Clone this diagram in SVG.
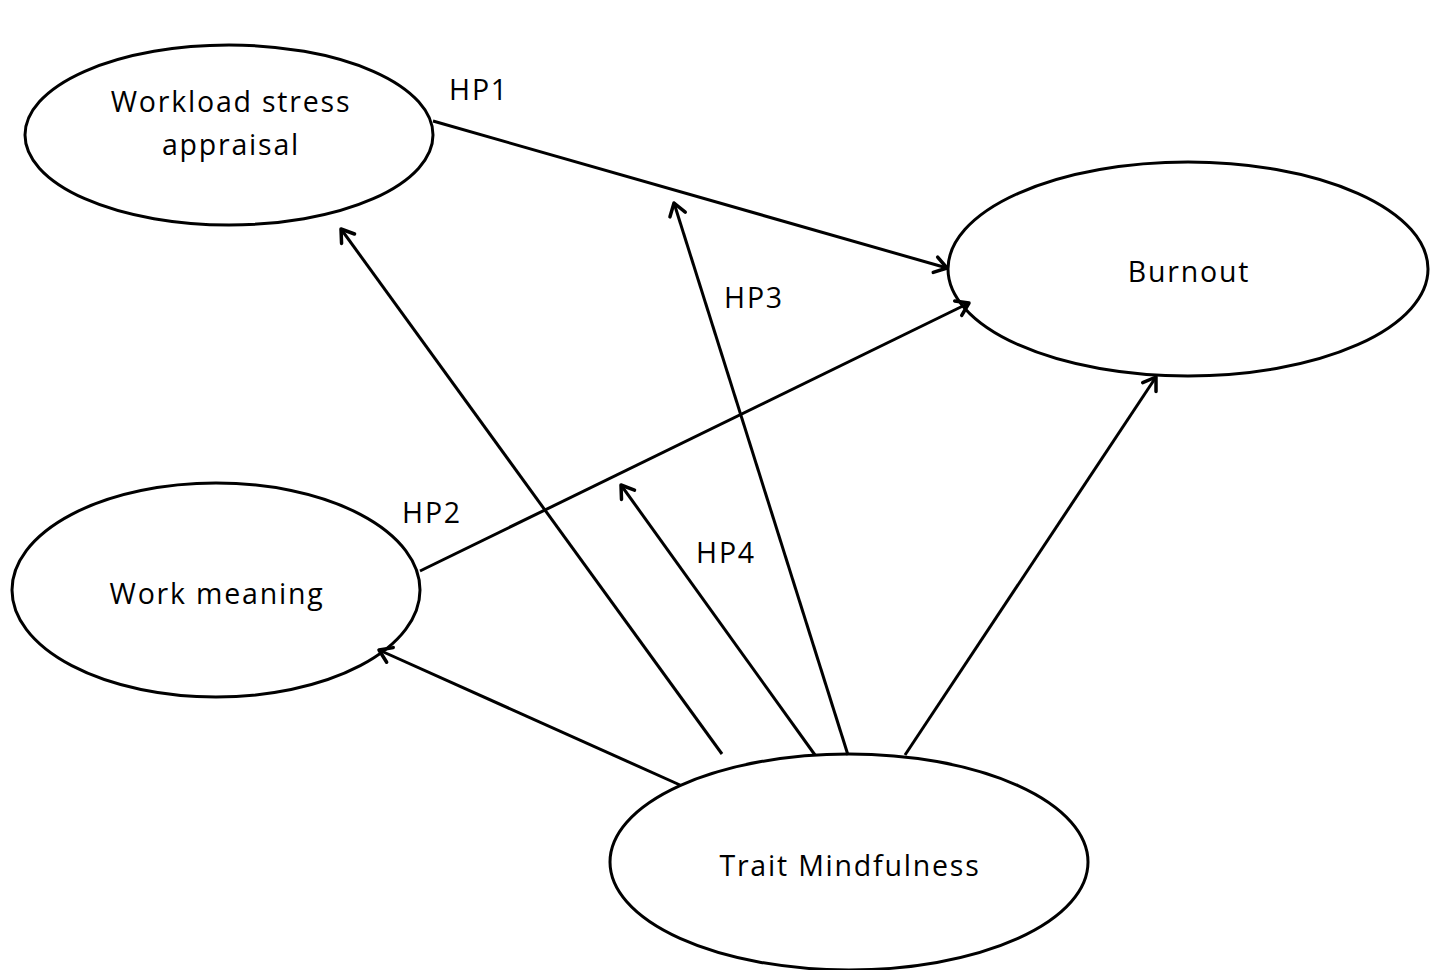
<svg xmlns="http://www.w3.org/2000/svg" width="1437" height="970" viewBox="0 0 1437 970">
<style>
.node ellipse{fill:#fff;stroke:#000;stroke-width:3}
text{font-family:"Open Sans","Liberation Sans",sans-serif;font-size:28.5px;letter-spacing:1.8px;fill:#000;text-anchor:middle}
.conn line{stroke:#000;stroke-width:3;marker-end:url(#arr)}
</style>
<defs>
<marker id="arr" markerUnits="userSpaceOnUse" markerWidth="24" markerHeight="24" refX="17" refY="12" orient="auto" viewBox="0 0 24 24">
<path d="M5,4 L17,12 L5,20" fill="none" stroke="#000" stroke-width="3.5" stroke-linecap="round" stroke-linejoin="round"/>
</marker>
</defs>
<rect width="1437" height="970" fill="#fff"/>
<g id="n-workload" class="node"><ellipse cx="229" cy="135" rx="204" ry="90"/><text x="231" y="112">Workload stress</text><text x="231" y="155">appraisal</text></g>
<g id="n-burnout" class="node"><ellipse cx="1188" cy="269" rx="240" ry="107"/><text x="1189" y="282">Burnout</text></g>
<g id="n-workmeaning" class="node"><ellipse cx="216" cy="590" rx="204" ry="107"/><text x="217" y="604">Work meaning</text></g>
<g id="n-trait" class="node"><ellipse cx="849" cy="862" rx="239" ry="108"/><text x="850" y="876">Trait Mindfulness</text></g>
<g id="connectors" class="conn">
<line x1="433" y1="121" x2="947" y2="268"/>
<line x1="420" y1="571" x2="969" y2="303"/>
<line x1="680" y1="785" x2="379" y2="650"/>
<line x1="722" y1="754" x2="341" y2="229"/>
<line x1="815" y1="755" x2="621" y2="485"/>
<line x1="848" y1="755" x2="674" y2="203"/>
<line x1="905" y1="755" x2="1156" y2="377"/>
</g>
<g id="labels">
<text x="479" y="100">HP1</text>
<text x="754" y="308">HP3</text>
<text x="432" y="523">HP2</text>
<text x="726" y="563">HP4</text>
</g>
</svg>
